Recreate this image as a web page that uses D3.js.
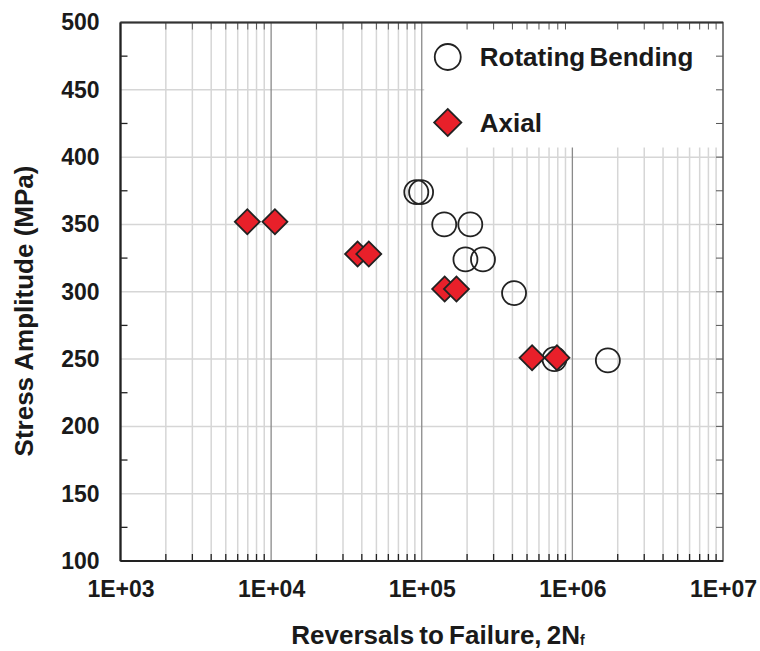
<!DOCTYPE html>
<html>
<head>
<meta charset="utf-8">
<script src="https://cdnjs.cloudflare.com/ajax/libs/d3/7.8.5/d3.min.js"></script>
<style>
  body { margin: 0; background: #fff; }
  svg text { font-family: "Liberation Sans", Arial, sans-serif; font-weight: bold; fill: #1a1a1a; }
</style>
</head>
<body>
<svg id="chart" width="760" height="651"></svg>
<script>
// fatigue data
var rotatingCycles = [9.2e4, 9.9e4, 1.41e5, 2.10e5, 1.95e5, 2.55e5, 4.1e5, 7.6e5, 1.72e6];
var rotatingStress = [374, 374, 350, 350, 324, 324, 299, 250, 249];
var axialCycles = [6.95e3, 1.06e4, 3.75e4, 4.45e4, 1.42e5, 1.70e5, 5.4e5, 7.9e5];
var axialStress = [352, 352, 328, 328, 302, 302, 251, 251];

var xTickValues = [1e3, 1e4, 1e5, 1e6, 1e7];
var xTickLabels = ["1E+03", "1E+04", "1E+05", "1E+06", "1E+07"];
var yTickValues = [100, 150, 200, 250, 300, 350, 400, 450, 500];
var legendLabels = ["Rotating Bending", "Axial"];

document.addEventListener('DOMContentLoaded', function () {
    drawChart();
});

function drawChart() {
    const svg = d3.select('#chart');
    const margin = { top: 22.5, bottom: 90, right: 37, left: 120.5 };
    const innerWidth = 760 - margin.left - margin.right;
    const innerHeight = 651 - margin.top - margin.bottom;

    const xScale = d3.scaleLog()
                    .domain([1e3, 1e7])
                    .range([0, innerWidth]);
    const yScale = d3.scaleLinear()
                    .domain([100, 500])
                    .range([innerHeight, 0]);

    const g = svg.append('g')
        .attr('transform', 'translate(' + margin.left + ',' + margin.top + ')');

    // minor log positions 2..9 in every decade
    var minorX = [];
    for (var dec = 3; dec < 7; dec++) {
        for (var m = 2; m <= 9; m++) minorX.push(m * Math.pow(10, dec));
    }
    var minorY = d3.range(125, 500, 50);

    // gridlines
    g.append('g').selectAll('line.minor-x')
        .data(minorX)
        .join('line')
        .attr('x1', d => xScale(d)).attr('x2', d => xScale(d))
        .attr('y1', 0).attr('y2', innerHeight)
        .attr('stroke', '#d6d6d6').attr('stroke-width', 1.5);
    g.append('g').selectAll('line.grid-y')
        .data(yTickValues.slice(1, -1))
        .join('line')
        .attr('x1', 0).attr('x2', innerWidth)
        .attr('y1', d => yScale(d)).attr('y2', d => yScale(d))
        .attr('stroke', '#d6d6d6').attr('stroke-width', 1.5);
    g.append('g').selectAll('line.major-x')
        .data(xTickValues.slice(1, -1))
        .join('line')
        .attr('x1', d => xScale(d)).attr('x2', d => xScale(d))
        .attr('y1', 0).attr('y2', innerHeight)
        .attr('stroke', '#8a8a8a').attr('stroke-width', 1.3);

    // legend box (covers the grid)
    const legend = g.append('g');
    legend.append('rect')
        .attr('x', xScale(1e5) + 2.5).attr('y', 0)
        .attr('width', innerWidth - xScale(1e5) - 2.5)
        .attr('height', 125)
        .attr('fill', '#fff');

    // mirrored inner ticks on top and right
    g.append('g').selectAll('line')
        .data(minorX)
        .join('line')
        .attr('x1', d => xScale(d)).attr('x2', d => xScale(d))
        .attr('y1', 0).attr('y2', 7)
        .attr('stroke', '#555').attr('stroke-width', 1);
    g.append('g').selectAll('line')
        .data(minorY.concat(yTickValues))
        .join('line')
        .attr('x1', innerWidth - 7).attr('x2', innerWidth)
        .attr('y1', d => yScale(d)).attr('y2', d => yScale(d))
        .attr('stroke', '#555').attr('stroke-width', 1);

    // axes
    const xAxis = d3.axisBottom(xScale)
        .tickValues(xTickValues)
        .tickFormat((d, i) => xTickLabels[i])
        .tickSize(0).tickPadding(20);
    const gx = g.append('g').attr('transform', `translate(0,${innerHeight})`).call(xAxis);
    gx.select('.domain').remove();
    gx.selectAll('text').attr('font-size', 23).attr('fill', '#1a1a1a');

    const yAxis = d3.axisLeft(yScale)
        .tickValues(yTickValues)
        .tickFormat(d3.format('d'))
        .tickSize(0).tickPadding(21);
    const gy = g.append('g').call(yAxis);
    gy.select('.domain').remove();
    gy.selectAll('text').attr('font-size', 23).attr('fill', '#1a1a1a');

    // inner ticks on bottom and left
    g.append('g').selectAll('line')
        .data(minorX)
        .join('line')
        .attr('x1', d => xScale(d)).attr('x2', d => xScale(d))
        .attr('y1', innerHeight - 7).attr('y2', innerHeight)
        .attr('stroke', '#222').attr('stroke-width', 1.3);
    g.append('g').selectAll('line')
        .data(minorY)
        .join('line')
        .attr('x1', 0).attr('x2', 7)
        .attr('y1', d => yScale(d)).attr('y2', d => yScale(d))
        .attr('stroke', '#222').attr('stroke-width', 1.3);

    // frame
    g.append('rect')
        .attr('x', 0).attr('y', 0)
        .attr('width', innerWidth).attr('height', innerHeight)
        .attr('fill', 'none').attr('stroke', '#555').attr('stroke-width', 1.5);
    g.append('line')
        .attr('x1', 0).attr('x2', innerWidth)
        .attr('y1', innerHeight).attr('y2', innerHeight)
        .attr('stroke', '#222').attr('stroke-width', 2.2);
    g.append('line')
        .attr('x1', 0).attr('x2', 0)
        .attr('y1', 0).attr('y2', innerHeight)
        .attr('stroke', '#222').attr('stroke-width', 2.2);
    g.append('line')
        .attr('x1', 0).attr('x2', innerWidth)
        .attr('y1', 0).attr('y2', 0)
        .attr('stroke', '#333').attr('stroke-width', 1.8);

    // points
    const diamond = d3.symbol(d3.symbolSquare, 312);
    const rotatingData = rotatingCycles.map((c, i) => ({ x: c, y: rotatingStress[i] }));
    const axialData = axialCycles.map((c, i) => ({ x: c, y: axialStress[i] }));

    g.append('g').selectAll('circle')
        .data(rotatingData)
        .join('circle')
        .attr('cx', d => xScale(d.x)).attr('cy', d => yScale(d.y))
        .attr('r', 12)
        .attr('fill', 'none').attr('stroke', '#222').attr('stroke-width', 1.8);

    g.append('g').selectAll('path')
        .data(axialData)
        .join('path')
        .attr('d', diamond)
        .attr('transform', d => `translate(${xScale(d.x)},${yScale(d.y)}) rotate(45)`)
        .attr('fill', '#e8202a').attr('stroke', '#222').attr('stroke-width', 1.8);

    // legend entries
    const lx = xScale(1e5) + 26;
    legend.append('circle')
        .attr('cx', lx).attr('cy', 34.5).attr('r', 13)
        .attr('fill', 'none').attr('stroke', '#222').attr('stroke-width', 1.8);
    legend.append('path')
        .attr('d', d3.symbol(d3.symbolSquare, 370))
        .attr('transform', `translate(${lx},${100}) rotate(45)`)
        .attr('fill', '#e8202a').attr('stroke', '#222').attr('stroke-width', 1.8);
    legend.selectAll('text')
        .data(legendLabels)
        .join('text')
        .attr('x', lx + 32)
        .attr('y', (d, i) => 43 + i * 66)
        .attr('font-size', 26)
        .attr('word-spacing', -3)
        .text(d => d);

    // axis titles
    svg.append('text')
        .attr('transform', 'translate(33,311) rotate(-90)')
        .attr('text-anchor', 'middle')
        .attr('font-size', 26)
        .text('Stress Amplitude (MPa)');

    const xt = svg.append('text')
        .attr('x', 438)
        .attr('y', 644)
        .attr('text-anchor', 'middle')
        .attr('font-size', 26)
        .attr('word-spacing', -2);
    xt.append('tspan').text('Reversals to Failure, 2N');
    xt.append('tspan').attr('font-size', 14).attr('dy', 1).text('f');
}
</script>
</body>
</html>
